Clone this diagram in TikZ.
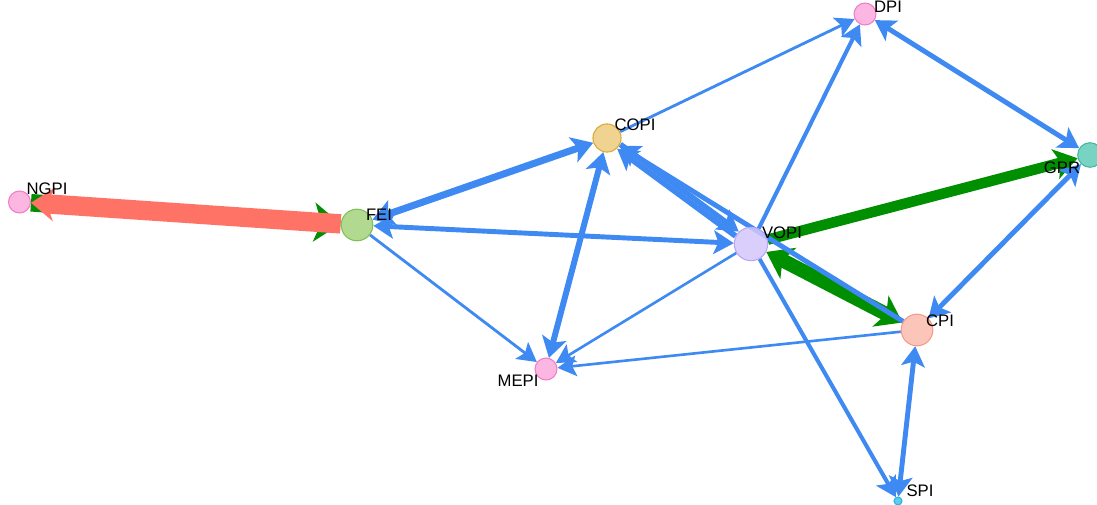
\documentclass[tikz,border=0pt]{standalone}
\usepackage{fontspec}
\setmainfont{Liberation Sans}
\usetikzlibrary{arrows.meta,backgrounds}

\definecolor{eblue}{HTML}{3E8AF2}
\definecolor{egreen}{HTML}{008F00}
\definecolor{ered}{HTML}{FF7266}
\definecolor{pinkfill}{HTML}{FAAADC}
\definecolor{pinkline}{HTML}{F27CC8}
\definecolor{feifill}{HTML}{A5D27C}
\definecolor{feiline}{HTML}{7FBF55}
\definecolor{copifill}{HTML}{EDCB7E}
\definecolor{copiline}{HTML}{D9A83A}
\definecolor{gprfill}{HTML}{62CBB8}
\definecolor{gprline}{HTML}{3FB8A2}
\definecolor{vopifill}{HTML}{D4C6FB}
\definecolor{vopiline}{HTML}{B9A5F5}
\definecolor{cpifill}{HTML}{FCBBAD}
\definecolor{cpiline}{HTML}{F59A88}
\definecolor{spifill}{HTML}{3FC3EE}
\definecolor{spiline}{HTML}{2BB0E0}

\tikzset{
	vtx/.style={circle, inner sep=0pt, line width=0.6pt, fill opacity=0.85, minimum size=#1},
	lbl/.style={inner sep=0pt, font=\fontsize{9.5}{11}\selectfont},
	blueedge/.style={draw=eblue, line width=#1},
	greenedge/.style={draw=egreen, line width=#1},
	rededge/.style={draw=ered, line width=#1, >={Stealth[length=13pt, width=19pt, inset=4pt]}}
}

\begin{document}
\begin{tikzpicture}[x=0.02cm, y=-0.02cm, >={Stealth[length=10pt 0.5, width=10pt 1.2, inset=2pt 0.2]}]
	\useasboundingbox (0, 0) rectangle (1097, 504);

	% vertices
	\node [vtx=12.5pt, fill=pinkfill, draw=pinkline] at (19.5, 202) (ngpi) {};
	\node [vtx=18pt, fill=feifill, draw=feiline] at (357, 225) (fei) {};
	\node [vtx=16pt, fill=copifill, draw=copiline] at (607, 138) (copi) {};
	\node [vtx=12.5pt, fill=pinkfill, draw=pinkline] at (865, 14) (dpi) {};
	\node [vtx=14pt, fill=gprfill, draw=gprline] at (1090, 155) (gpr) {};
	\node [vtx=19pt, fill=vopifill, draw=vopiline] at (751, 244) (vopi) {};
	\node [vtx=18pt, fill=cpifill, draw=cpiline] at (917, 330) (cpi) {};
	\node [vtx=12.5pt, fill=pinkfill, draw=pinkline] at (546, 369) (mepi) {};
	\node [vtx=4.5pt, fill=spifill, draw=spiline] at (898, 501) (spi) {};

	% labels
	\node [lbl] at (47, 189) (ngpi-l) {NGPI};
	\node [lbl] at (379, 215) (fei-l) {FEI};
	\node [lbl] at (635, 125) (copi-l) {COPI};
	\node [lbl] at (888, 6.5) (dpi-l) {DPI};
	\node [lbl] at (1062, 168) (gpr-l) {GPR};
	\node [lbl] at (782, 233) (vopi-l) {VOPI};
	\node [lbl] at (940, 321) (cpi-l) {CPI};
	\node [lbl] at (518, 381) (mepi-l) {MEPI};
	\node [lbl] at (920, 491) (spi-l) {SPI};

	% edges
	\begin{scope}[on background layer]
		\draw [greenedge=10pt, ->] (ngpi) -- (fei);
		\draw [rededge=11pt, ->] (fei) -- (ngpi);
		\draw [blueedge=4pt, <->] (fei) -- (copi);
		\draw [blueedge=2.8pt, <->] (fei) -- (vopi);
		\draw [blueedge=1.6pt, ->] (fei) -- (mepi);
		\draw [blueedge=1.6pt, ->] (copi) -- (dpi);
		\draw [blueedge=3.4pt, <->] (copi) -- (mepi);
		\draw [blueedge=3.2pt, ->, transform canvas={shift={(1.6, -2.2)}}] (copi) -- (vopi);
		\draw [blueedge=3.2pt, ->, transform canvas={shift={(-1.6, 2.2)}}] (vopi) -- (copi);
		\draw [blueedge=2.3pt, ->] (vopi) -- (dpi);
		\draw [blueedge=2.8pt, <->] (dpi) -- (gpr);
		\draw [greenedge=6pt, ->] (vopi) -- (gpr);
		\draw [greenedge=8pt, <->] (vopi) -- (cpi);
		\draw [blueedge=2.8pt, ->] (cpi) -- (copi);
		\draw [blueedge=2.8pt, <->] (gpr) -- (cpi);
		\draw [blueedge=1.5pt, ->] (cpi) -- (mepi);
		\draw [blueedge=1.5pt, ->] (vopi) -- (mepi);
		\draw [blueedge=2.3pt, ->] (vopi) -- (spi);
		\draw [blueedge=2.8pt, <->] (cpi) -- (spi);
	\end{scope}
\end{tikzpicture}
\end{document}
